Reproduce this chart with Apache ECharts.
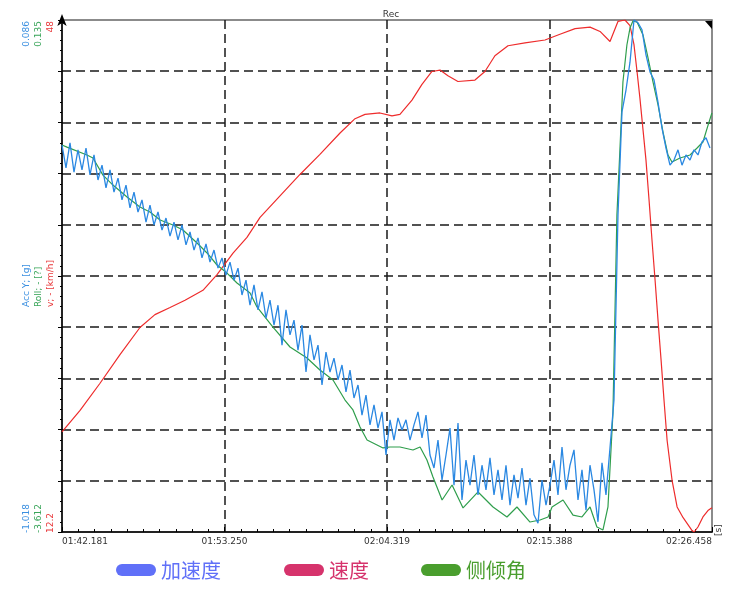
<!DOCTYPE html>
<html>
<head>
<meta charset="utf-8">
<script src="https://cdn.jsdelivr.net/npm/echarts@6/dist/echarts.min.js"></script>
<style>html,body{margin:0;padding:0;background:#fff}#c{width:750px;height:600px}</style>
</head>
<body>
<div id="c"></div>
<script>
// ---- tick labels / axis texts ----
const timeLabels = ['01:42.181', '01:53.250', '02:04.319', '02:15.388', '02:26.458'];
const timeStep = 11.06925;          // seconds between labelled ticks
const timeSpan = 44.277;            // 01:42.181 -> 02:26.458
const axisNames = ['Acc Y; [g]', 'Roll; - [?]', 'v; - [km/h]'];
const axisMaxLabels = ['0.086', '0.135', '48'];
const axisMinLabels = ['-1.018', '-3.612', '12.2'];
const accelRange = [-1.018, 0.086];
const rollRange = [-3.612, 0.135];
const speedRange = [12.2, 48];
const seriesNames = ['加速度', '速度', '侧倾角'];

// ---- speed v [km/h] (time offset s, value) ----
const speedT = [0, 1.23, 2.59, 3.95, 5.31, 6.33, 7.36, 8.38, 9.60, 10.56, 11.65, 12.60, 13.49, 14.85, 16.21, 17.57, 18.94, 19.96, 20.64, 21.66, 22.48, 23.02, 23.84, 24.52, 25.20, 25.75, 26.29, 26.97, 28.13, 28.81, 29.49, 30.38, 31.54, 32.90, 33.92, 34.95, 35.97, 36.65, 37.33, 37.87, 38.35, 38.69, 38.96, 39.17, 39.37, 39.58, 39.78, 39.99, 40.19, 40.40, 40.60, 40.81, 41.01, 41.22, 41.56, 41.90, 42.31, 42.92, 43.06, 43.32, 43.66, 44.00, 44.27];
const speedV = [19.2, 20.7, 22.6, 24.6, 26.5, 27.4, 27.9, 28.4, 29.1, 30.2, 31.7, 32.8, 34.2, 35.7, 37.2, 38.6, 40.1, 41.1, 41.4, 41.5, 41.3, 41.4, 42.4, 43.5, 44.4, 44.5, 44.1, 43.7, 43.8, 44.4, 45.5, 46.2, 46.4, 46.6, 47.0, 47.4, 47.5, 47.2, 46.5, 47.9, 48.0, 47.6, 46.3, 44.4, 42.5, 40.3, 38.2, 35.4, 32.6, 29.8, 27.0, 24.2, 21.4, 18.6, 15.8, 13.95, 13.2, 12.3, 12.2, 12.55, 13.25, 13.7, 13.9];

// ---- roll [deg] ----
const rollT = [0, 0.34, 1.70, 2.11, 2.79, 3.47, 4.43, 5.31, 5.99, 6.68, 7.56, 8.24, 9.20, 9.88, 10.56, 11.24, 11.92, 12.81, 13.28, 14.37, 15.53, 16.69, 17.57, 18.46, 19.28, 19.82, 20.30, 20.78, 21.46, 21.87, 22.34, 23.02, 23.91, 24.39, 24.86, 25.27, 25.89, 26.57, 27.32, 28.34, 29.36, 30.31, 30.99, 31.88, 32.56, 33.11, 33.38, 34.13, 34.81, 35.42, 35.97, 36.44, 36.85, 37.19, 37.53, 37.80, 38.01, 38.21, 38.48, 38.69, 38.89, 39.17, 39.58, 39.92, 40.26, 40.60, 40.94, 41.28, 41.55, 42.10, 42.78, 43.26, 43.66, 44.01, 44.27];
const rollV = [-0.780, -0.795, -0.853, -0.875, -1.000, -1.073, -1.160, -1.234, -1.270, -1.329, -1.365, -1.402, -1.497, -1.570, -1.658, -1.717, -1.790, -1.863, -1.965, -2.112, -2.258, -2.339, -2.426, -2.500, -2.646, -2.719, -2.844, -2.939, -2.975, -2.997, -2.990, -2.990, -3.012, -2.990, -3.085, -3.210, -3.378, -3.268, -3.436, -3.319, -3.429, -3.502, -3.429, -3.539, -3.524, -3.502, -3.429, -3.378, -3.488, -3.502, -3.429, -3.575, -3.597, -3.429, -2.741, -1.292, -0.802, -0.319, -0.048, 0.076, 0.128, 0.120, 0.025, -0.143, -0.319, -0.487, -0.685, -0.853, -0.904, -0.875, -0.853, -0.802, -0.758, -0.634, -0.546];

// ---- lateral acceleration Acc Y [g] ----
const accelT = [0, 0.272, 0.545, 0.817, 1.090, 1.362, 1.635, 1.907, 2.180, 2.452, 2.725, 2.997, 3.270, 3.542, 3.815, 4.087, 4.360, 4.632, 4.904, 5.177, 5.449, 5.722, 5.994, 6.267, 6.539, 6.812, 7.084, 7.357, 7.629, 7.902, 8.174, 8.447, 8.719, 8.992, 9.264, 9.536, 9.809, 10.081, 10.354, 10.626, 10.899, 11.171, 11.444, 11.716, 11.989, 12.261, 12.534, 12.806, 13.079, 13.351, 13.624, 13.896, 14.168, 14.441, 14.713, 14.986, 15.258, 15.531, 15.803, 16.076, 16.348, 16.621, 16.893, 17.166, 17.438, 17.711, 17.983, 18.255, 18.528, 18.800, 19.073, 19.345, 19.618, 19.890, 20.163, 20.435, 20.708, 20.980, 21.253, 21.525, 21.798, 22.070, 22.343, 22.615, 22.887, 23.160, 23.432, 23.705, 23.977, 24.250, 24.522, 24.795, 25.067, 25.340, 25.612, 25.885, 26.157, 26.430, 26.702, 26.975, 27.247, 27.519, 27.792, 28.064, 28.337, 28.609, 28.882, 29.154, 29.427, 29.699, 29.972, 30.244, 30.517, 30.789, 31.062, 31.334, 31.607, 31.879, 32.151, 32.424, 32.696, 32.969, 33.241, 33.514, 33.786, 34.059, 34.331, 34.604, 34.876, 35.149, 35.421, 35.694, 35.966, 36.239, 36.511, 36.783, 37.056, 37.328, 37.601, 37.873, 38.146, 38.418, 38.691, 38.963, 39.236, 39.508, 39.781, 40.053, 40.326, 40.598, 40.871, 41.143, 41.415, 41.688, 41.960, 42.233, 42.505, 42.778, 43.050, 43.323, 43.595, 43.868, 44.140];
const accelV = [-0.184, -0.233, -0.179, -0.242, -0.194, -0.237, -0.190, -0.248, -0.205, -0.259, -0.227, -0.276, -0.237, -0.285, -0.255, -0.302, -0.270, -0.319, -0.285, -0.328, -0.302, -0.350, -0.313, -0.356, -0.328, -0.367, -0.341, -0.380, -0.350, -0.388, -0.356, -0.399, -0.371, -0.410, -0.384, -0.427, -0.397, -0.436, -0.410, -0.449, -0.427, -0.464, -0.436, -0.475, -0.449, -0.507, -0.475, -0.529, -0.485, -0.539, -0.500, -0.557, -0.518, -0.572, -0.529, -0.615, -0.539, -0.593, -0.561, -0.626, -0.572, -0.673, -0.593, -0.647, -0.615, -0.701, -0.630, -0.673, -0.643, -0.690, -0.658, -0.716, -0.669, -0.729, -0.701, -0.766, -0.723, -0.787, -0.744, -0.794, -0.759, -0.852, -0.776, -0.820, -0.772, -0.798, -0.776, -0.820, -0.787, -0.759, -0.815, -0.766, -0.852, -0.880, -0.820, -0.906, -0.852, -0.794, -0.917, -0.783, -0.949, -0.863, -0.917, -0.852, -0.938, -0.874, -0.927, -0.858, -0.938, -0.884, -0.949, -0.874, -0.960, -0.895, -0.945, -0.880, -0.960, -0.902, -0.981, -0.999, -0.906, -0.960, -0.917, -0.863, -0.938, -0.835, -0.927, -0.874, -0.841, -0.949, -0.884, -0.971, -0.874, -0.927, -0.996, -0.869, -0.938, -0.837, -0.733, -0.334, -0.112, -0.065, -0.005, 0.086, 0.080, 0.065, 0.011, -0.026, -0.043, -0.091, -0.147, -0.190, -0.227, -0.216, -0.194, -0.227, -0.205, -0.216, -0.194, -0.205, -0.177, -0.168, -0.190];

const zip = (a, b) => a.map((t, i) => [t, b[i]]);

const C = {
  accel: '#2a88e2', roll: '#2f9e4c', speed: '#ee2c2c',
  accelTxt: '#3a8fe0', rollTxt: '#3aa55a', speedTxt: '#e8383a',
  accelLeg: '#6070f8', speedLeg: '#d6336c', rollLeg: '#4a9e2e'
};
const dash = { color: '#1a1a1a', width: 1.5, type: [9, 5] };
const smallFont = 'DejaVu Sans';

const chart = echarts.init(document.getElementById('c'), null, { renderer: 'canvas' });

function legendFor(name, color, left) {
  return {
    left: left, top: 555, itemWidth: 40, itemHeight: 12, itemGap: 0,
    icon: 'path://M6,0 H34 A6,6 0 0 1 34,12 H6 A6,6 0 0 1 6,0 Z',
    selectedMode: false,
    data: [{ name: name, itemStyle: { color: color }, textStyle: { color: color } }],
    textStyle: { fontSize: 20, fontFamily: 'Noto Sans CJK SC', padding: [0, 0, 0, 0] }
  };
}

function rotText(x, y, text, color, align) {
  return {
    type: 'text', x: x, y: y, rotation: Math.PI / 2,
    style: { text: text, fill: color, align: align, verticalAlign: 'middle', font: '9px ' + smallFont }
  };
}

const txtColors = [C.accelTxt, C.rollTxt, C.speedTxt];
const txtX = [27, 39, 51];
const graphics = [];
for (let i = 0; i < 3; i++) {
  graphics.push(rotText(txtX[i], 21, axisMaxLabels[i], txtColors[i], 'right'));
  graphics.push(rotText(txtX[i], 533, axisMinLabels[i], txtColors[i], 'left'));
  graphics.push(rotText(txtX[i], 307, axisNames[i], txtColors[i], 'left'));
}
graphics.push(rotText(719, 536, '[s]', '#333', 'left'));
graphics.push({ type: 'polygon', shape: { points: [[705, 21], [712, 21], [712, 29]] }, style: { fill: '#000' } });

chart.setOption({
  animation: false,
  backgroundColor: '#fff',
  title: {
    text: 'Rec', left: 386, top: 5, textAlign: 'center',
    textStyle: { fontSize: 9, fontWeight: 'normal', color: '#333', fontFamily: smallFont }
  },
  grid: { left: 62, right: 38, top: 20, bottom: 68, show: true, borderColor: '#666', borderWidth: 1.5, backgroundColor: 'transparent' },
  legend: [
    legendFor(seriesNames[0], C.accelLeg, 111),
    legendFor(seriesNames[1], C.speedLeg, 279),
    legendFor(seriesNames[2], C.rollLeg, 416)
  ],
  xAxis: {
    type: 'value', min: 0, max: timeSpan, interval: timeStep,
    axisLine: { lineStyle: { color: '#000', width: 1.5 } },
    axisTick: { show: true, inside: true, length: 5, lineStyle: { color: '#000' } },
    minorTick: { show: true, splitNumber: 10, length: 3, lineStyle: { color: '#000' } },
    splitLine: { show: true, showMinLine: false, showMaxLine: false, lineStyle: dash },
    axisLabel: {
      color: '#333', fontSize: 9, fontFamily: smallFont, margin: 5,
      alignMinLabel: 'left', alignMaxLabel: 'right',
      formatter: v => { const k = Math.round(v / timeStep); return timeLabels[k] !== undefined ? timeLabels[k] : ''; }
    }
  },
  yAxis: [
    {
      type: 'value', min: 0, max: 10, interval: 1,
      axisLine: { show: true, lineStyle: { color: '#000', width: 1.5 }, symbol: ['none', 'arrow'], symbolSize: [7, 12], symbolOffset: [0, 6] },
      axisTick: { show: true, inside: false, length: 4, lineStyle: { color: '#000' } },
      minorTick: { show: true, splitNumber: 5, length: 2, lineStyle: { color: '#000' } },
      splitLine: { show: true, showMinLine: false, showMaxLine: false, lineStyle: dash },
      axisLabel: { show: false }
    },
    { type: 'value', min: accelRange[0], max: accelRange[1], show: false, splitLine: { show: false } },
    { type: 'value', min: rollRange[0], max: rollRange[1], show: false, splitLine: { show: false } },
    { type: 'value', min: speedRange[0], max: speedRange[1], show: false, splitLine: { show: false } }
  ],
  series: [
    {
      name: seriesNames[1], type: 'line', yAxisIndex: 3, data: zip(speedT, speedV),
      showSymbol: false, symbol: 'none', color: C.speed, lineStyle: { color: C.speed, width: 1.2 }
    },
    {
      name: seriesNames[2], type: 'line', yAxisIndex: 2, data: zip(rollT, rollV),
      showSymbol: false, symbol: 'none', color: C.roll, lineStyle: { color: C.roll, width: 1.2 }
    },
    {
      name: seriesNames[0], type: 'line', yAxisIndex: 1, data: zip(accelT, accelV),
      showSymbol: false, symbol: 'none', color: C.accel, lineStyle: { color: C.accel, width: 1.3 }
    }
  ],
  graphic: graphics
});
</script>
</body>
</html>
